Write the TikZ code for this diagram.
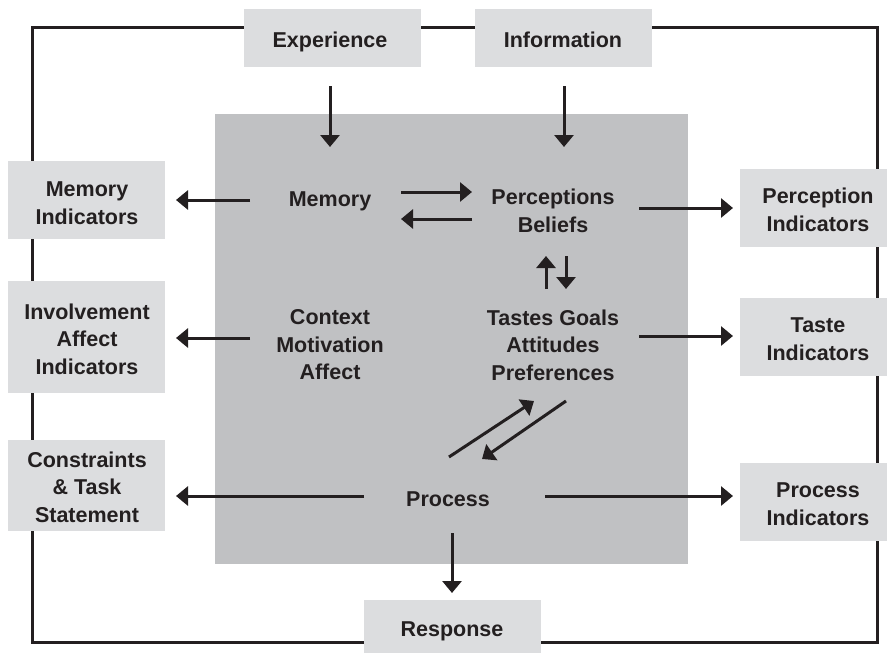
\documentclass[tikz,border=0pt]{standalone}
\usepackage{fontspec}
\setmainfont{Liberation Sans}
\usetikzlibrary{arrows.meta}
\definecolor{txt}{HTML}{231F20}
\definecolor{boxg}{HTML}{DCDDDF}
\definecolor{midg}{HTML}{C0C1C3}
\tikzset{
  lbox/.style={fill=boxg, draw=none, inner sep=0pt, text=txt, align=center,
    font=\fontsize{21.5}{27.5}\selectfont\bfseries},
  ctext/.style={inner sep=0pt, text=txt, align=center,
    font=\fontsize{21.5}{27.5}\selectfont\bfseries},
  arr/.style={line width=3pt, draw=txt, -{Triangle[length=12pt,width=19pt]}},
  frame/.style={line width=3pt, draw=txt}
}
\begin{document}
\begin{tikzpicture}[x=1pt,y=-1pt]
\useasboundingbox (0,0) rectangle (887,653);
% outer frame
\draw[frame] (32,27) rectangle (877,642);
% center gray area
\fill[midg] (215,114) rectangle (688,564);
% light boxes
\node[lbox, minimum width=177pt, minimum height=58pt] (exp) at (332.5,38) {};
\node[lbox, minimum width=177pt, minimum height=58pt] (info) at (563.5,38) {};
\node[lbox, minimum width=157pt, minimum height=78pt] (memind) at (86.5,200) {};
\node[lbox, minimum width=157pt, minimum height=112pt] (invind) at (86.5,337) {};
\node[lbox, minimum width=157pt, minimum height=91pt] (cons) at (86.5,485.5) {};
\node[lbox, minimum width=156pt, minimum height=78pt] (percind) at (818,208) {};
\node[lbox, minimum width=156pt, minimum height=78pt] (tasteind) at (818,337) {};
\node[lbox, minimum width=156pt, minimum height=78pt] (procind) at (818,502) {};
\node[lbox, minimum width=177pt, minimum height=62pt] (resp) at (452.5,631) {};
% box labels
\node[ctext] (expT) at (330,42) {Experience};
\node[ctext] (infoT) at (563,40) {Information};
\node[ctext] (memindT) at (87,203) {Memory\\Indicators};
\node[ctext] (invindT) at (87,339) {Involvement\\Affect\\Indicators};
\node[ctext] (consT) at (87,487) {Constraints\\\& Task\\Statement};
\node[ctext] (percindT) at (818,210) {Perception\\Indicators};
\node[ctext] (tasteindT) at (818,339) {Taste\\Indicators};
\node[ctext] (procindT) at (818,504) {Process\\Indicators};
\node[ctext] (respT) at (452,631) {Response};
% inner texts
\node[ctext] (mem) at (330,201) {Memory};
\node[ctext] (perc) at (553,211) {Perceptions\\Beliefs};
\node[ctext] (ctx) at (330,345) {Context\\Motivation\\Affect};
\node[ctext] (taste) at (553,345) {Tastes Goals\\Attitudes\\Preferences};
\node[ctext] (proc) at (448,499) {Process};
% arrow end coordinates
\coordinate (expS) at (330,86);   \coordinate (memN) at (330,147);
\coordinate (infoS) at (564,86);  \coordinate (percN) at (564,147);
\coordinate (memW) at (250,200);  \coordinate (memindE) at (176,200);
\coordinate (memE1) at (401,192); \coordinate (percW1) at (472,192);
\coordinate (percW2) at (472,219); \coordinate (memE2) at (401,219);
\coordinate (percE) at (639,208); \coordinate (percindW) at (733,208);
\coordinate (tasteN1) at (546,289); \coordinate (percS1) at (546,256);
\coordinate (percS2) at (566,256); \coordinate (tasteN2) at (566,289);
\coordinate (ctxW) at (250,338);  \coordinate (invindE) at (176,338);
\coordinate (tasteE) at (639,336); \coordinate (tasteindW) at (733,336);
\coordinate (procW) at (364,496); \coordinate (consE) at (176,496);
\coordinate (procE) at (545,496); \coordinate (procindW) at (733,496);
\coordinate (procS) at (452,533); \coordinate (respN) at (452,593);
\coordinate (procNE1) at (449,457); \coordinate (tasteSW1) at (534,401);
\coordinate (tasteSW2) at (566,401); \coordinate (procNE2) at (482,459);
% arrows
\draw[arr] (expS) -- (memN);
\draw[arr] (infoS) -- (percN);
\draw[arr] (memW) -- (memindE);
\draw[arr] (memE1) -- (percW1);
\draw[arr] (percW2) -- (memE2);
\draw[arr] (percE) -- (percindW);
\draw[arr] (tasteN1) -- (percS1);
\draw[arr] (percS2) -- (tasteN2);
\draw[arr] (ctxW) -- (invindE);
\draw[arr] (tasteE) -- (tasteindW);
\draw[arr] (procW) -- (consE);
\draw[arr] (procE) -- (procindW);
\draw[arr] (procS) -- (respN);
\draw[arr] (procNE1) -- (tasteSW1);
\draw[arr] (tasteSW2) -- (procNE2);
\end{tikzpicture}
\end{document}
